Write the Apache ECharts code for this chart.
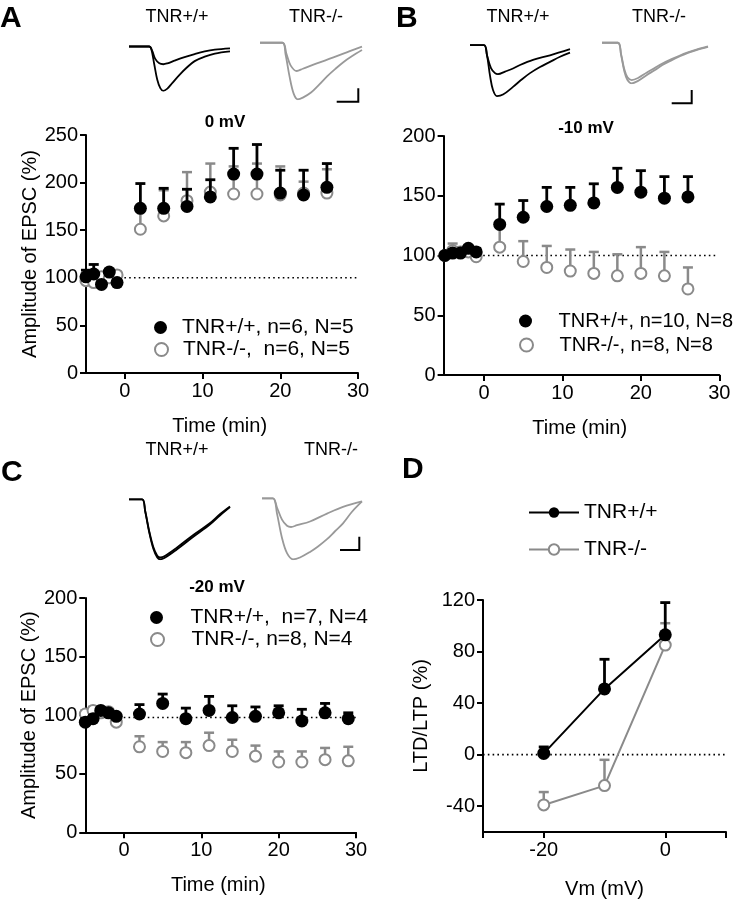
<!DOCTYPE html>
<html><head><meta charset="utf-8">
<script src="https://cdn.jsdelivr.net/npm/echarts@6/dist/echarts.min.js"></script>
<style>html,body{margin:0;padding:0;background:#fff}#c{width:739px;height:899px}</style>
</head><body><div id="c"></div><script>
// ---------- data ----------
const timeAB = [-5,-4,-3,-2,-1,2,5,8,11,14,17,20,23,26];
const timeC  = [-5,-4,-3,-2,-1,2,5,8,11,14,17,20,23,26,29];

const aWtMean = [101,104,93,106,95,173,173,175,185,209,209,189,187,195];
const aWtSem  = [7,10,3,3,3,26,21,18,18,27,31,24,26,25];
const aKoMean = [97,95,101,100,103,151,165,181,190,188,188,187,189,189];
const aKoSem  = [4,5,3,3,3,20,27,30,30,29,32,30,12,25];

const bWtMean = [100,102,102,106,103,126,132,141,142,144,157,153,148,149];
const bWtSem  = [2,3,3,2,3,17,14,16,15,16,16,18,18,17];
const bKoMean = [100,104,103,103,99,107,95,90,87,85,83,85,83,72];
const bKoSem  = [3,6,4,3,2,18,17,18,18,18,18,22,20,18];

const cWtMean = [94,97,104,102,99,101,110,97,104,98,99,102,95,102,97];
const cWtSem  = [3,3,2,2,2,8,8,9,12,10,8,6,10,8,5];
const cKoMean = [101,104,102,103,94,73,69,68,74,69,65,60,60,62,61];
const cKoSem  = [3,3,3,2,2,9,8,9,11,10,9,9,9,10,12];

const vm     = [-20,-10,0];
const dWt    = [1,51,93];
const dWtSem = [5,23,25];
const dKo    = [-39,-24,85];
const dKoSem = [10,20,17];

const baseA = 100, baseB = 100, baseC = 98, baseD = 0;
const timeTicks = [0,10,20,30];
const ampTicksA = [0,50,100,150,200,250];
const ampTicksBC = [0,50,100,150,200];
const ltpTicks = [-40,0,40,80,120];
const vmLabels = [-20,0];
const vmTicks = [-30,-20,0,10];

const legA = ['TNR+/+, n=6, N=5','TNR-/-,  n=6, N=5'];
const legB = ['TNR+/+, n=10, N=8','TNR-/-, n=8, N=8'];
const legC = ['TNR+/+,  n=7, N=4','TNR-/-, n=8, N=4'];
const legD = ['TNR+/+','TNR-/-'];

// example EPSC traces [t, normalized amplitude]
const trAwtL = [[0,0],[20,0],[22,-5],[25,-40],[28,-75],[31,-94],[34,-100],[38,-95],[43,-82],[50,-64],[57,-48],[65,-33],[75,-23],[85,-16],[100,-11]];
const trAwtS = [[0,0],[20,0],[23,-10],[26,-28],[30,-38],[34,-40],[38,-38],[45,-32],[55,-24],[65,-17],[75,-11],[85,-7],[100,-4]];
const trAkoL = [[0,0],[22,0],[25,-20],[29,-60],[33,-90],[37,-100],[42,-97],[50,-88],[58,-74],[66,-59],[74,-46],[82,-34],[90,-24],[100,-13]];
const trAkoS = [[0,0],[22,0],[26,-20],[30,-40],[36,-50],[42,-46],[55,-37],[72,-26],[88,-15],[100,-7]];
const trBwtL = [[0,0],[14,0],[17,-20],[20,-60],[23,-88],[27,-100],[33,-97],[43,-82],[52,-67],[60,-55],[70,-43],[80,-33],[90,-23],[100,-15]];
const trBwtS = [[0,0],[14,0],[17,-20],[21,-45],[25,-55],[28,-57],[35,-52],[43,-46],[50,-39],[63,-29],[80,-20],[100,-8]];
const trBkoL = [[0,0],[15,0],[18,-30],[21,-70],[24,-92],[28,-100],[34,-94],[42,-80],[50,-67],[57,-55],[65,-44],[73,-34],[81,-25],[89,-18],[100,-10]];
const trBkoS = [[0,0],[15,0],[18,-28],[21,-65],[24,-85],[28,-92],[34,-87],[42,-74],[50,-62],[57,-51],[65,-41],[73,-32],[81,-24],[89,-17],[100,-9]];
const trCwtL = [[0,0],[13,0],[16,-20],[20,-55],[24,-82],[28,-97],[31,-100],[35,-98],[47,-84],[64,-62],[80,-42],[90,-27],[100,-13]];
const trCwtS = [[0,0],[13,0],[16,-19],[20,-53],[24,-79],[28,-94],[31,-97],[35,-95],[47,-81],[64,-59],[80,-40],[90,-25],[100,-12]];
const trCkoL = [[0,0],[11,0],[15,-25],[20,-65],[25,-90],[31,-100],[38,-97],[48,-88],[56,-79],[65,-67],[73,-54],[81,-41],[90,-22],[100,-5]];
const trCkoS = [[0,0],[11,0],[15,-15],[20,-35],[25,-45],[29,-47],[35,-44],[48,-38],[65,-25],[81,-14],[100,-5]];

// ---------- helpers ----------
const FF = 'Liberation Sans, Arial, Helvetica, sans-serif';
const BLACK = '#000', GRAY = '#8a8a8a';
const zip = (xs, ys) => xs.map((x, i) => [x, ys[i]]);
const zip3 = (xs, ys, es) => xs.map((x, i) => [x, ys[i], es[i]]);

function errSeries(idx, data, color, w, z) {
  return {
    type: 'custom', xAxisIndex: idx, yAxisIndex: idx, silent: true, z: z, clip: false,
    encode: {x: 0, y: 1},
    data: data,
    renderItem: function (params, api) {
      const x = api.value(0), y = api.value(1), e = api.value(2);
      const p0 = api.coord([x, y]);
      const p1 = api.coord([x, y + e]);
      return {type: 'group', children: [
        {type: 'line', shape: {x1: p0[0], y1: p0[1], x2: p1[0], y2: p1[1]}, style: {stroke: color, lineWidth: w}},
        {type: 'line', shape: {x1: p1[0] - 5, y1: p1[1], x2: p1[0] + 5, y2: p1[1]}, style: {stroke: color, lineWidth: w}}
      ]};
    }
  };
}
function ptsSeries(idx, name, data, filled, z) {
  return {
    type: 'scatter', name: name, xAxisIndex: idx, yAxisIndex: idx, z: z,
    symbol: 'circle', symbolSize: filled ? 13 : 11, data: data,
    itemStyle: filled ? {color: BLACK, opacity: 1} : {color: '#fff', borderColor: GRAY, borderWidth: 2, opacity: 1},
    emphasis: {disabled: true}
  };
}
function dotted(idx, x0, x1, y) {
  return {
    type: 'line', xAxisIndex: idx, yAxisIndex: idx, silent: true, z: 1, symbol: 'none',
    data: [[x0, y], [x1, y]], lineStyle: {color: '#000', width: 1.6, type: [1.6, 3.2]}
  };
}
function traceSeries(idx, data, color) {
  return {
    type: 'line', xAxisIndex: idx, yAxisIndex: idx, silent: true, symbol: 'none', smooth: 0.35,
    data: data, lineStyle: {color: color, width: 1.8}
  };
}
const axisLineStyle = {show: true, onZero: false, lineStyle: {color: '#000', width: 2}};
function timeX(min) {
  return {
    type: 'value', min: min, max: 30, axisLine: axisLineStyle,
    axisTick: {show: true, length: 6, lineStyle: {color: '#000', width: 2}, customValues: timeTicks},
    axisLabel: {color: '#000', fontSize: 20, fontFamily: FF, margin: 8, customValues: timeTicks},
    splitLine: {show: false},
    name: 'Time (min)', nameLocation: 'middle', nameGap: 43,
    nameTextStyle: {color: '#000', fontSize: 20, fontFamily: FF}
  };
}
function ampY(max, ticks, offset, withName) {
  return {
    type: 'value', min: 0, max: max, offset: offset, axisLine: axisLineStyle,
    axisTick: {show: true, length: 6, lineStyle: {color: '#000', width: 2}, customValues: ticks},
    axisLabel: {color: '#000', fontSize: 20, fontFamily: FF, margin: 8, customValues: ticks},
    splitLine: {show: false},
    name: withName ? 'Amplitude of EPSC (%)' : '', nameLocation: 'middle', nameGap: 46, nameRotate: 90,
    nameTextStyle: {color: '#000', fontSize: 20, fontFamily: FF}
  };
}
function legendOne(name, left, top, w, style, size) {
  return {
    data: [{name: name, itemStyle: style}], left: left, top: top, orient: 'horizontal', padding: 0,
    itemWidth: w, itemHeight: 13, selectedMode: false,
    textStyle: {color: '#000', fontSize: size, fontFamily: FF}
  };
}
const wtStyle = {color: BLACK, opacity: 1};
const koStyle = {color: '#fff', borderColor: GRAY, borderWidth: 2, opacity: 1};

// ---------- grids ----------
const grids = [
  {left: 81.3, top: 135, width: 276.7, height: 238},   // A
  {left: 440.1, top: 136, width: 279.2, height: 239},  // B
  {left: 80.7, top: 598, width: 275.3, height: 234.3}, // C
  {left: 483, top: 600, width: 243, height: 232},      // D
  {left: 129, top: 44.3, width: 101, height: 46.5},    // trace A wt
  {left: 260, top: 39.9, width: 102, height: 59.4},    // trace A ko
  {left: 470, top: 42.5, width: 100, height: 53.6},    // trace B wt
  {left: 602, top: 40.7, width: 106, height: 42.6},    // trace B ko
  {left: 129, top: 496.3, width: 101, height: 63},     // trace C wt
  {left: 262, top: 495.3, width: 100, height: 64}      // trace C ko
].map(g => Object.assign({outerBoundsMode: 'none', containLabel: false}, g));

const xAxes = [timeX(-5.6), timeX(-5.6), timeX(-5.6), {
  type: 'value', min: -30, max: 10, axisLine: axisLineStyle,
  axisTick: {show: true, length: 6, lineStyle: {color: '#000', width: 2}, customValues: vmTicks},
  axisLabel: {color: '#000', fontSize: 20, fontFamily: FF, margin: 8, customValues: vmLabels},
  splitLine: {show: false},
  name: 'Vm (mV)', nameLocation: 'middle', nameGap: 47,
  nameTextStyle: {color: '#000', fontSize: 20, fontFamily: FF}
}];
const yAxes = [ampY(250, ampTicksA, -4.7, true), ampY(200, ampTicksBC, -3.5, false), ampY(200, ampTicksBC, -4.6, true), {
  type: 'value', min: -60, max: 120, axisLine: axisLineStyle,
  axisTick: {show: true, length: 6, lineStyle: {color: '#000', width: 2}, customValues: ltpTicks},
  axisLabel: {color: '#000', fontSize: 20, fontFamily: FF, margin: 8, customValues: ltpTicks},
  splitLine: {show: false},
  name: 'LTD/LTP (%)', nameLocation: 'middle', nameGap: 52, nameRotate: 90,
  nameTextStyle: {color: '#000', fontSize: 20, fontFamily: FF}
}];
for (let i = 4; i < 10; i++) {
  xAxes.push({type: 'value', gridIndex: i, min: 0, max: 100, show: false});
  yAxes.push({type: 'value', gridIndex: i, min: -100, max: 5, show: false});
}
xAxes.forEach((a, i) => a.gridIndex = i);
yAxes.forEach((a, i) => a.gridIndex = i);

// ---------- series ----------
const series = [
  dotted(0, -5, 30, baseA),
  errSeries(0, zip3(timeAB, aKoMean, aKoSem), GRAY, 2.5, 2),
  ptsSeries(0, legA[1], zip(timeAB, aKoMean), false, 3),
  errSeries(0, zip3(timeAB, aWtMean, aWtSem), BLACK, 2.8, 4),
  ptsSeries(0, legA[0], zip(timeAB, aWtMean), true, 5),

  dotted(1, -5, 29.7, baseB),
  errSeries(1, zip3(timeAB, bKoMean, bKoSem), GRAY, 2.5, 2),
  ptsSeries(1, legB[1], zip(timeAB, bKoMean), false, 3),
  errSeries(1, zip3(timeAB, bWtMean, bWtSem), BLACK, 2.8, 4),
  ptsSeries(1, legB[0], zip(timeAB, bWtMean), true, 5),

  dotted(2, -5, 31.5, baseC),
  errSeries(2, zip3(timeC, cKoMean, cKoSem), GRAY, 2.5, 2),
  ptsSeries(2, legC[1], zip(timeC, cKoMean), false, 3),
  errSeries(2, zip3(timeC, cWtMean, cWtSem), BLACK, 2.8, 4),
  ptsSeries(2, legC[0], zip(timeC, cWtMean), true, 5),

  dotted(3, -30, 10, baseD),
  errSeries(3, zip3(vm, dKo, dKoSem), GRAY, 2.5, 2),
  {type: 'line', name: legD[1], xAxisIndex: 3, yAxisIndex: 3, z: 3, data: zip(vm, dKo),
   symbol: 'circle', symbolSize: 11, showAllSymbol: true,
   lineStyle: {color: GRAY, width: 2}, itemStyle: {color: '#fff', borderColor: GRAY, borderWidth: 2, opacity: 1}, emphasis: {disabled: true}},
  errSeries(3, zip3(vm, dWt, dWtSem), BLACK, 2.8, 4),
  {type: 'line', name: legD[0], xAxisIndex: 3, yAxisIndex: 3, z: 5, data: zip(vm, dWt),
   symbol: 'circle', symbolSize: 13, showAllSymbol: true,
   lineStyle: {color: BLACK, width: 2}, itemStyle: {color: BLACK, opacity: 1}, emphasis: {disabled: true}},

  traceSeries(4, trAwtL, BLACK), traceSeries(4, trAwtS, BLACK),
  traceSeries(5, trAkoL, '#999'), traceSeries(5, trAkoS, '#999'),
  traceSeries(6, trBwtL, BLACK), traceSeries(6, trBwtS, BLACK),
  traceSeries(7, trBkoL, '#999'), traceSeries(7, trBkoS, '#999'),
  traceSeries(8, trCwtL, BLACK), traceSeries(8, trCwtS, BLACK),
  traceSeries(9, trCkoL, '#999'), traceSeries(9, trCkoS, '#999')
];

// ---------- legends ----------
const legends = [
  legendOne(legA[0], 154, 317, 33, wtStyle, 21), legendOne(legA[1], 154, 339, 33, koStyle, 21),
  legendOne(legB[0], 519, 311, 56, wtStyle, 20), legendOne(legB[1], 519, 335, 56, koStyle, 20),
  legendOne(legC[0], 150, 607, 58, wtStyle, 21), legendOne(legC[1], 150, 629, 58, koStyle, 21),
  legendOne(legD[0], 528, 502, 50, wtStyle, 21),
  legendOne(legD[1], 528, 539, 50, koStyle, 21)
];

// ---------- decorations ----------
function txt(x, y, s, size, bold, align) {
  return {type: 'text', x: x, y: y, silent: true,
    style: {text: s, fill: '#000', fontSize: size, fontWeight: bold ? 'bold' : 'normal', fontFamily: FF,
            align: align || 'center', verticalAlign: 'middle'}};
}
function scaleBar(x0, xr, yt, yb) {
  return {type: 'polyline', silent: true, shape: {points: [[x0, yb], [xr, yb], [xr, yt]]}, style: {stroke: '#000', lineWidth: 2, fill: null}};
}
const graphics = [
  txt(0, 19, 'A', 30, true, 'left'), txt(396, 19, 'B', 30, true, 'left'),
  txt(1, 473, 'C', 30, true, 'left'), txt(402, 470, 'D', 30, true, 'left'),
  txt(177, 17, 'TNR+/+', 18), txt(316, 17, 'TNR-/-', 18),
  txt(518, 17, 'TNR+/+', 18), txt(659, 17, 'TNR-/-', 18),
  txt(177, 450, 'TNR+/+', 18), txt(331, 450, 'TNR-/-', 18),
  txt(225, 122, '0 mV', 17, true), txt(586, 128, '-10 mV', 17, true), txt(217, 587, '-20 mV', 17, true),
  scaleBar(336.7, 358.3, 88.3, 101.7), scaleBar(671.7, 691.7, 90, 103.3), scaleBar(340, 359.3, 536.7, 550)
];

const chart = echarts.init(document.getElementById('c'), null, {renderer: 'canvas'});
chart.setOption({
  animation: false,
  backgroundColor: '#fff',
  textStyle: {fontFamily: FF},
  grid: grids, xAxis: xAxes, yAxis: yAxes,
  legend: legends, series: series, graphic: graphics,
  tooltip: {show: false}
});
</script></body></html>
